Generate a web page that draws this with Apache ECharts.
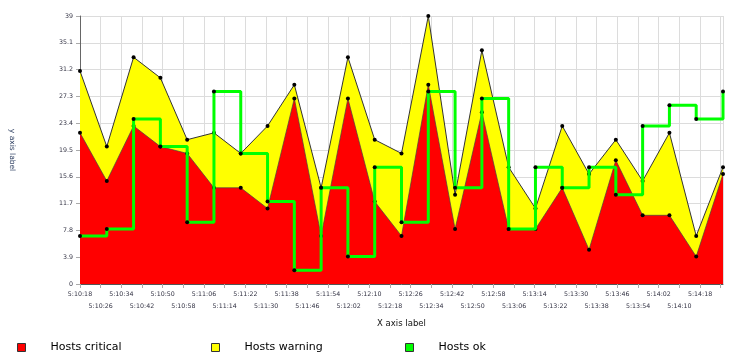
<!DOCTYPE html>
<html>
<head>
<meta charset="utf-8">
<script src="https://cdn.jsdelivr.net/npm/echarts@6/dist/echarts.min.js"></script>
<style>
html,body{margin:0;padding:0;background:#fff;}
#chart{width:735px;height:359px;}
</style>
</head>
<body>
<div id="chart"></div>
<script>
// Time of each sample, seconds after 5:10:18
var times = [0, 10.37, 20.74, 31.11, 41.48, 51.85, 62.22, 72.59, 82.96, 93.33, 103.7, 114.07, 124.44,
             134.81, 145.18, 155.55, 165.92, 176.29, 186.66, 197.03, 207.4, 217.77, 228.14, 238.51, 248.88];
var startTime = '5:10:18';
var hostsCritical = [22, 15, 23, 20, 19, 14, 14, 11, 27, 7, 27, 12, 7, 29, 8, 25, 8, 8, 14, 5, 18, 10, 10, 4, 16];
var hostsWarning  = [9, 5, 10, 10, 2, 8, 5, 12, 2, 7, 6, 9, 12, 10, 5, 9, 9, 3, 9, 11, 3, 5, 12, 3, 1];
var hostsOk       = [7, 8, 24, 20, 9, 28, 19, 12, 2, 14, 4, 17, 9, 28, 14, 27, 8, 17, 14, 17, 13, 23, 26, 24, 28];
var yTicks = ['0', '3.9', '7.8', '11.7', '15.6', '19.5', '23.4', '27.3', '31.2', '35.1', '39'];

function parseT(s){ var p = s.split(':'); return (+p[0])*3600 + (+p[1])*60 + (+p[2]); }
var base = parseT(startTime);
var tMax = times[times.length-1];
function fmt(v){
  var t = Math.round(base + v);
  var h = Math.floor(t/3600), m = Math.floor((t%3600)/60), s = t%60;
  return h + ':' + (m<10?'0':'') + m + ':' + (s<10?'0':'') + s;
}
function pairs(arr){ return arr.map(function(v,i){ return [times[i], v]; }); }
// warning is stacked on top of critical
var warningTop = hostsWarning.map(function(v,i){ return v + hostsCritical[i]; });

var FONT = 'DejaVu Sans';
var chart = echarts.init(document.getElementById('chart'), null, {renderer:'canvas'});
function legendAt(left, name, color){
  return {
    left: left, top: 337, icon: 'rect', itemWidth: 8, itemHeight: 8,
    data: [{name: name, itemStyle: {color: color, borderColor: '#333', borderWidth: 1}}],
    textStyle: {fontFamily: FONT, fontSize: 11, color: '#000', padding: [0,0,0,20]},
    selectedMode: false
  };
}
function timeLabel(parity){
  return function(v){
    var k = Math.round(v/8);
    if (Math.abs(v - k*8) > 0.01) return '';
    if (v + 8 > tMax) return '';
    if (k % 2 !== parity) return '';
    return fmt(v);
  };
}
chart.setOption({
  animation: false,
  backgroundColor: '#fff',
  grid: {left: 80, right: 12, top: 16, bottom: 75},
  legend: [
    legendAt(12, 'Hosts critical', '#ff0000'),
    legendAt(206, 'Hosts warning', '#ffff00'),
    legendAt(400, 'Hosts ok', '#00ff00')
  ],
  xAxis: [{
    type: 'value', min: 0, max: tMax, interval: 8, position: 'bottom',
    name: 'X axis label', nameLocation: 'middle', nameGap: 35,
    nameTextStyle: {fontFamily: FONT, fontSize: 8.5, color: '#111'},
    axisLine: {lineStyle: {color: '#555', width: 1}},
    axisTick: {show: true, length: 4, lineStyle: {color: '#aaa'}},
    splitLine: {show: true, lineStyle: {color: '#dcdcdc', width: 1}},
    axisLabel: {
      fontFamily: FONT, fontSize: 6.3, color: '#334', margin: 7,
      showMinLabel: true, showMaxLabel: false,
      formatter: timeLabel(0)
    }
  }, {
    type: 'value', min: 0, max: tMax, interval: 8, position: 'bottom',
    axisLine: {show: false},
    axisTick: {show: false},
    splitLine: {show: false},
    axisLabel: {
      fontFamily: FONT, fontSize: 6.3, color: '#334', margin: 19.5,
      showMinLabel: true, showMaxLabel: false,
      formatter: timeLabel(1)
    }
  }],
  yAxis: {
    type: 'value', min: 0, max: 39, interval: 3.9,
    name: 'y axis label', nameLocation: 'middle', nameGap: 64, nameRotate: -90,
    nameTextStyle: {fontFamily: FONT, fontSize: 7.5, color: '#334466'},
    axisLine: {show: true, lineStyle: {color: '#666', width: 1}},
    axisTick: {show: true, length: 4, lineStyle: {color: '#aaa'}},
    splitLine: {show: true, lineStyle: {color: '#dcdcdc', width: 1}},
    axisLabel: {
      fontFamily: FONT, fontSize: 6.3, color: '#334', margin: 7,
      formatter: function(v){
        var i = Math.round(v/3.9);
        return yTicks[i] !== undefined ? yTicks[i] : '';
      }
    }
  },
  series: [
    {
      name: 'Hosts warning', type: 'line', data: pairs(warningTop), xAxisIndex: 0,
      symbol: 'circle', symbolSize: 4, showSymbol: true,
      itemStyle: {color: '#000'},
      lineStyle: {color: '#333', width: 1},
      areaStyle: {color: '#ffff00', opacity: 1},
      z: 2
    },
    {
      name: 'Hosts critical', type: 'line', data: pairs(hostsCritical), xAxisIndex: 0,
      symbol: 'circle', symbolSize: 4, showSymbol: true,
      itemStyle: {color: '#000'},
      lineStyle: {color: '#444', width: 0.7},
      areaStyle: {color: '#ff0000', opacity: 1},
      z: 3
    },
    {
      name: 'Hosts ok', type: 'line', step: 'end', data: pairs(hostsOk), xAxisIndex: 0,
      symbol: 'circle', symbolSize: 4, showSymbol: true,
      itemStyle: {color: '#000'},
      lineStyle: {color: '#00ff00', width: 3},
      z: 5
    }
  ]
});
</script>
</body>
</html>
